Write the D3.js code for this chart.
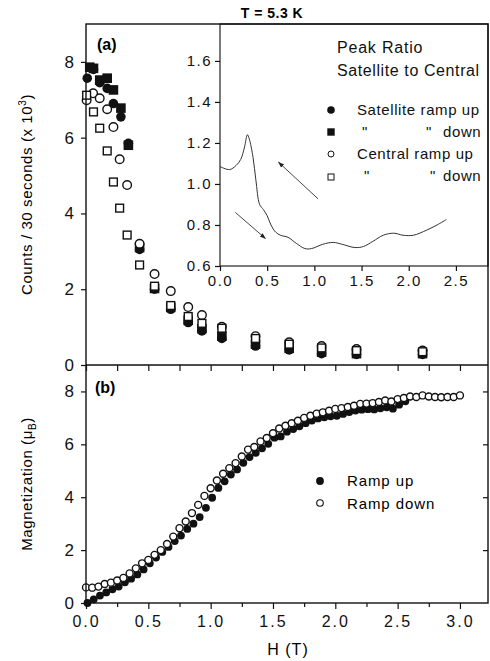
<!DOCTYPE html>
<html>
<head>
<meta charset="utf-8">
<script src="https://cdn.jsdelivr.net/npm/d3@7"></script>
<style>
  body { margin: 0; background: #fff; }
  svg { font-family: "Liberation Sans", Arial, sans-serif; }
</style>
</head>
<body>
<svg id="chart" width="490" height="661"></svg>
<script>
// panel (a) - peak counts
let satUpH = [0.01, 0.06, 0.11, 0.17, 0.22, 0.28, 0.34, 0.43, 0.55, 0.68, 0.82, 0.93, 1.09, 1.36, 1.63, 1.89, 2.17, 2.7]
let satUpC = [7.57, 7.8, 7.45, 7.3, 6.9, 6.55, 5.85, 3.05, 2.0, 1.47, 1.12, 0.9, 0.7, 0.5, 0.4, 0.3, 0.28, 0.28]
let satDownH = [0.03, 0.06, 0.11, 0.17, 0.22, 0.28, 0.34, 0.43, 0.55, 0.68, 0.82, 0.93, 1.09, 1.36, 1.63, 1.89, 2.17, 2.7]
let satDownC = [7.86, 7.83, 7.52, 7.57, 7.26, 6.78, 5.8, 3.1, 2.02, 1.52, 1.18, 0.96, 0.76, 0.55, 0.44, 0.34, 0.3, 0.3]
let cenUpH = [0.005, 0.057, 0.11, 0.17, 0.22, 0.27, 0.33, 0.43, 0.55, 0.68, 0.82, 0.93, 1.09, 1.36, 1.63, 1.89, 2.17, 2.7]
let cenUpC = [6.99, 7.17, 7.04, 6.75, 6.28, 5.43, 4.75, 3.2, 2.4, 1.95, 1.53, 1.32, 1.01, 0.76, 0.6, 0.5, 0.42, 0.38]
let cenDownH = [0.005, 0.06, 0.11, 0.17, 0.22, 0.27, 0.33, 0.43, 0.55, 0.68, 0.82, 0.93, 1.09, 1.36, 1.63, 1.89, 2.17, 2.7]
let cenDownC = [7.12, 6.68, 6.25, 5.65, 4.83, 4.14, 3.43, 2.64, 2.08, 1.57, 1.28, 1.1, 0.97, 0.7, 0.55, 0.45, 0.38, 0.35]

// inset - peak ratio
let insetH = [0, 0.1, 0.17, 0.22, 0.26, 0.29, 0.31, 0.35, 0.38, 0.42, 0.46, 0.5, 0.54, 0.59, 0.64, 0.72, 0.81, 0.9, 0.97, 1.09, 1.2, 1.3, 1.43, 1.52, 1.62, 1.73, 1.84, 1.94, 2.05, 2.19, 2.3, 2.4]
let insetRatio = [1.085, 1.07, 1.09, 1.12, 1.18, 1.24, 1.22, 1.13, 1.02, 0.9, 0.875, 0.845, 0.8, 0.765, 0.75, 0.74, 0.71, 0.685, 0.685, 0.706, 0.715, 0.705, 0.69, 0.695, 0.72, 0.75, 0.76, 0.75, 0.75, 0.775, 0.8, 0.827]
let arrowFromH = [1.04, 0.163]
let arrowFromR = [0.927, 0.861]
let arrowToH = [0.62, 0.482]
let arrowToR = [1.106, 0.734]

// panel (b) - magnetization
let rampUpH = [0.00, 0.05, 0.10, 0.15, 0.20, 0.25, 0.30, 0.35, 0.40, 0.45, 0.50, 0.55, 0.60, 0.65, 0.70, 0.75, 0.80, 0.85, 0.90, 0.95,
  1.00, 1.05, 1.10, 1.15, 1.20, 1.25, 1.30, 1.35, 1.40, 1.45, 1.50, 1.55, 1.60, 1.65, 1.70, 1.75, 1.80, 1.85, 1.90, 1.95,
  2.00, 2.05, 2.10, 2.15, 2.20, 2.25, 2.30, 2.35, 2.40, 2.45, 2.50, 2.55]
let rampUpM = [0.00, 0.14, 0.28, 0.40, 0.52, 0.62, 0.78, 0.92, 1.08, 1.27, 1.50, 1.72, 1.93, 2.12, 2.34, 2.55, 2.80, 3.00, 3.25, 3.60,
  3.98, 4.35, 4.60, 4.86, 5.05, 5.30, 5.52, 5.68, 5.85, 6.02, 6.25, 6.30, 6.48, 6.58, 6.68, 6.80, 6.90, 6.98, 7.02, 7.06,
  7.08, 7.15, 7.22, 7.28, 7.31, 7.33, 7.32, 7.36, 7.40, 7.35, 7.50, 7.63]
let rampDownH = [0.00, 0.05, 0.10, 0.15, 0.20, 0.25, 0.30, 0.35, 0.40, 0.45, 0.50, 0.55, 0.60, 0.65, 0.70, 0.75, 0.80, 0.85, 0.90, 0.95,
  1.00, 1.05, 1.10, 1.15, 1.20, 1.25, 1.30, 1.35, 1.40, 1.45, 1.50, 1.55, 1.60, 1.65, 1.70, 1.75, 1.80, 1.85, 1.90, 1.95,
  2.00, 2.05, 2.10, 2.15, 2.20, 2.25, 2.30, 2.35, 2.40, 2.45, 2.50, 2.55, 2.60, 2.65, 2.70, 2.75, 2.80, 2.85, 2.90, 2.95, 3.00]
let rampDownM = [0.59, 0.58, 0.62, 0.72, 0.77, 0.85, 0.95, 1.12, 1.31, 1.50, 1.63, 1.82, 2.00, 2.23, 2.51, 2.83, 3.08, 3.40, 3.71, 4.05,
  4.34, 4.63, 4.89, 5.10, 5.29, 5.54, 5.80, 5.90, 6.11, 6.24, 6.42, 6.60, 6.70, 6.80, 6.89, 7.00, 7.08, 7.16, 7.21, 7.27,
  7.34, 7.37, 7.41, 7.46, 7.53, 7.54, 7.56, 7.60, 7.66, 7.62, 7.71, 7.75, 7.81, 7.79, 7.85, 7.81, 7.79, 7.78, 7.79, 7.79, 7.85]

// ticks
let xTicks = [0, 0.5, 1, 1.5, 2, 2.5, 3]
let xMinorTicks = [0.25, 0.75, 1.25, 1.75, 2.25, 2.75]
let yTicks = [0, 2, 4, 6, 8]
let insetXTicks = [0, 0.5, 1, 1.5, 2, 2.5]
let insetYTicks = [0.6, 0.8, 1.0, 1.2, 1.4, 1.6]

let zip = (a, b) => a.map((v, i) => [v, b[i]])

var svg = d3.select("#chart")

var left = 86, right = 488, topA = 24, mid = 365, bottom = 603

var x = d3.scaleLinear().domain([0, 3.225]).range([left, right])
var yA = d3.scaleLinear().domain([0, 9]).range([mid, topA])
var yB = d3.scaleLinear().domain([0, 9]).range([bottom, mid])

var ix = d3.scaleLinear().domain([0, 2.84]).range([220, right])
var iy = d3.scaleLinear().domain([0.6, 1.78]).range([266, topA])

let styleAxis = (g, size, spacing) => {
    g.select(".domain").remove()
    g.selectAll("line").attr("stroke", "#111").attr("stroke-width", 1.2)
    g.selectAll("text").attr("fill", "#111").style("font-size", size + "px").style("letter-spacing", spacing + "px")
}

// ---------- panel (a) ----------
g = svg.append("g")

g.append("g")
    .attr("transform", "translate(" + left + ",0)")
    .call(d3.axisLeft(yA).tickValues(yTicks).tickSize(5).tickPadding(7))
    .call(s => styleAxis(s, 17, 0))

// markers
g.selectAll(".satUp").data(zip(satUpH, satUpC)).enter().append("circle")
    .attr("cx", d => x(d[0])).attr("cy", d => yA(d[1])).attr("r", 4.8).attr("fill", "#111")
g.selectAll(".satDown").data(zip(satDownH, satDownC)).enter().append("rect")
    .attr("x", d => x(d[0]) - 4.8).attr("y", d => yA(d[1]) - 4.8).attr("width", 9.6).attr("height", 9.6).attr("fill", "#111")
g.selectAll(".cenUp").data(zip(cenUpH, cenUpC)).enter().append("circle")
    .attr("cx", d => x(d[0])).attr("cy", d => yA(d[1])).attr("r", 4.3)
    .attr("fill", "#fff").attr("stroke", "#111").attr("stroke-width", 1.4)
g.selectAll(".cenDown").data(zip(cenDownH, cenDownC)).enter().append("rect")
    .attr("x", d => x(d[0]) - 3.9).attr("y", d => yA(d[1]) - 3.9).attr("width", 7.8).attr("height", 7.8)
    .attr("fill", "#fff").attr("stroke", "#111").attr("stroke-width", 1.4)

g.append("text").attr("x", 97).attr("y", 50).attr("font-weight", "bold").style("font-size", "16px").text("(a)")

// ---------- inset ----------
var ins = svg.append("g")
ins.append("rect").attr("x", ix(0)).attr("y", topA).attr("width", right - ix(0)).attr("height", iy(0.6) - topA)
    .attr("fill", "#fff").attr("stroke", "#222").attr("stroke-width", 1.2)

ins.append("g")
    .attr("transform", "translate(" + ix(0) + ",0)")
    .call(d3.axisLeft(iy).tickValues(insetYTicks).tickSize(5).tickPadding(3).tickFormat(d3.format(".1f")))
    .call(s => styleAxis(s, 15, 1.5))
ins.append("g")
    .attr("transform", "translate(0," + iy(0.6) + ")")
    .call(d3.axisBottom(ix).tickValues(insetXTicks).tickSize(5).tickPadding(4).tickFormat(d3.format(".1f")))
    .call(s => styleAxis(s, 15, 1.5))

ins.append("path")
    .datum(zip(insetH, insetRatio))
    .attr("d", d3.line().x(d => ix(d[0])).y(d => iy(d[1])).curve(d3.curveCatmullRom))
    .attr("fill", "none").attr("stroke", "#333").attr("stroke-width", 1)

svg.append("defs").append("marker")
    .attr("id", "head").attr("viewBox", "0 0 10 10").attr("refX", 9).attr("refY", 5)
    .attr("markerWidth", 7).attr("markerHeight", 7).attr("orient", "auto")
    .append("path").attr("d", "M0,1.5 L10,5 L0,8.5 Z").attr("fill", "#222")

arrowFromH.forEach((h, i) => {
    ins.append("line")
        .attr("x1", ix(h)).attr("y1", iy(arrowFromR[i]))
        .attr("x2", ix(arrowToH[i])).attr("y2", iy(arrowToR[i]))
        .attr("stroke", "#333").attr("stroke-width", 0.9).attr("marker-end", "url(#head)")
})

let legText = (xp, yp, t, size, sp) => ins.append("text").attr("x", xp).attr("y", yp)
    .style("font-size", size + "px").style("letter-spacing", sp + "px").attr("fill", "#111").text(t)

legText(337, 53, "Peak Ratio", 16, 0.8)
legText(337, 76, "Satellite to Central", 16, 0.6)
ins.append("circle").attr("cx", 331).attr("cy", 110).attr("r", 3.8).attr("fill", "#111")
ins.append("rect").attr("x", 327.3).attr("y", 128.3).attr("width", 7.4).attr("height", 7.4).attr("fill", "#111")
ins.append("circle").attr("cx", 331).attr("cy", 154).attr("r", 3).attr("fill", "#fff").attr("stroke", "#111").attr("stroke-width", 1)
ins.append("rect").attr("x", 328).attr("y", 174).attr("width", 6).attr("height", 6).attr("fill", "#fff").attr("stroke", "#111").attr("stroke-width", 1)
legText(357, 115, "Satellite ramp up", 15, 0.6)
legText(362, 137, "\"", 15, 0)
legText(426, 137, "\"", 15, 0)
legText(443, 137, "down", 15, 0.6)
legText(357, 159, "Central ramp up", 15, 0.6)
legText(364, 181, "\"", 15, 0)
legText(430, 181, "\"", 15, 0)
legText(443, 181, "down", 15, 0.6)

svg.append("text").attr("x", 272).attr("y", 18).attr("text-anchor", "middle")
    .attr("font-weight", "bold").style("font-size", "14px").style("letter-spacing", "0.5px").text("T = 5.3 K")

// ---------- panel (b) ----------
var gb = svg.append("g")

gb.append("g")
    .attr("transform", "translate(" + left + ",0)")
    .call(d3.axisLeft(yB).tickValues(yTicks).tickSize(5).tickPadding(7))
    .call(s => styleAxis(s, 17, 0))
gb.append("g")
    .attr("transform", "translate(" + right + ",0)")
    .call(d3.axisLeft(yB).tickValues(yTicks.slice(1)).tickSize(5).tickFormat(""))
    .call(s => styleAxis(s, 17, 0))

// boundary ticks (pointing into panel b)
gb.append("g")
    .attr("transform", "translate(0," + mid + ")")
    .call(d3.axisBottom(x).tickValues(xTicks.concat(xMinorTicks)).tickSize(6).tickFormat(""))
    .call(s => styleAxis(s, 16, 0))

// bottom axis
gb.append("g")
    .attr("transform", "translate(0," + bottom + ")")
    .call(d3.axisBottom(x).tickValues(xTicks).tickSize(6).tickPadding(7).tickFormat(d3.format(".1f")))
    .call(s => styleAxis(s, 16, 2))
gb.append("g")
    .attr("transform", "translate(0," + bottom + ")")
    .call(d3.axisBottom(x).tickValues(xMinorTicks).tickSize(4).tickFormat(""))
    .call(s => styleAxis(s, 16, 0))

gb.selectAll(".up").data(zip(rampUpH, rampUpM)).enter().append("circle")
    .attr("cx", d => x(d[0]) + 1.5).attr("cy", d => yB(d[1])).attr("r", 3.9).attr("fill", "#111")
gb.selectAll(".down").data(zip(rampDownH, rampDownM)).enter().append("circle")
    .attr("cx", d => x(d[0])).attr("cy", d => yB(d[1])).attr("r", 3.5)
    .attr("fill", "#fff").attr("stroke", "#111").attr("stroke-width", 1.4)

gb.append("text").attr("x", 95).attr("y", 393).attr("font-weight", "bold").style("font-size", "16px").text("(b)")

gb.append("circle").attr("cx", 320).attr("cy", 481).attr("r", 3.9).attr("fill", "#111")
gb.append("circle").attr("cx", 320).attr("cy", 503).attr("r", 3.3).attr("fill", "#fff").attr("stroke", "#111").attr("stroke-width", 1.1)
gb.append("text").attr("x", 347).attr("y", 486).style("font-size", "15px").style("letter-spacing", "0.9px").text("Ramp up")
gb.append("text").attr("x", 347).attr("y", 509).style("font-size", "15px").style("letter-spacing", "0.9px").text("Ramp down")

// frames
svg.append("rect").attr("x", left).attr("y", topA).attr("width", right - left).attr("height", bottom - topA)
    .attr("fill", "none").attr("stroke", "#111").attr("stroke-width", 1.4)
svg.append("line").attr("x1", left).attr("x2", right).attr("y1", mid).attr("y2", mid)
    .attr("stroke", "#111").attr("stroke-width", 1.4)

// axis titles
svg.append("text").attr("transform", "translate(32," + yA(4.5) + ") rotate(-90)")
    .attr("text-anchor", "middle").style("font-size", "15px").style("letter-spacing", "0.6px")
    .text("Counts / 30 seconds (x 10")
    .append("tspan").attr("dy", -6).style("font-size", "10px").text("3")
    .select(function () { return this.parentNode })
    .append("tspan").attr("dy", 6).text(")")

var mag = svg.append("text").attr("transform", "translate(32," + yB(4.5) + ") rotate(-90)")
    .attr("text-anchor", "middle").style("font-size", "15px").style("letter-spacing", "0.6px")
mag.append("tspan").text("Magnetization (μ")
mag.append("tspan").attr("dy", 4).style("font-size", "10px").text("B")
mag.append("tspan").attr("dy", -4).text(")")

svg.append("text").attr("x", 288).attr("y", 655).attr("text-anchor", "middle")
    .style("font-size", "16px").style("letter-spacing", "1px").text("H (T)")
</script>
</body>
</html>
